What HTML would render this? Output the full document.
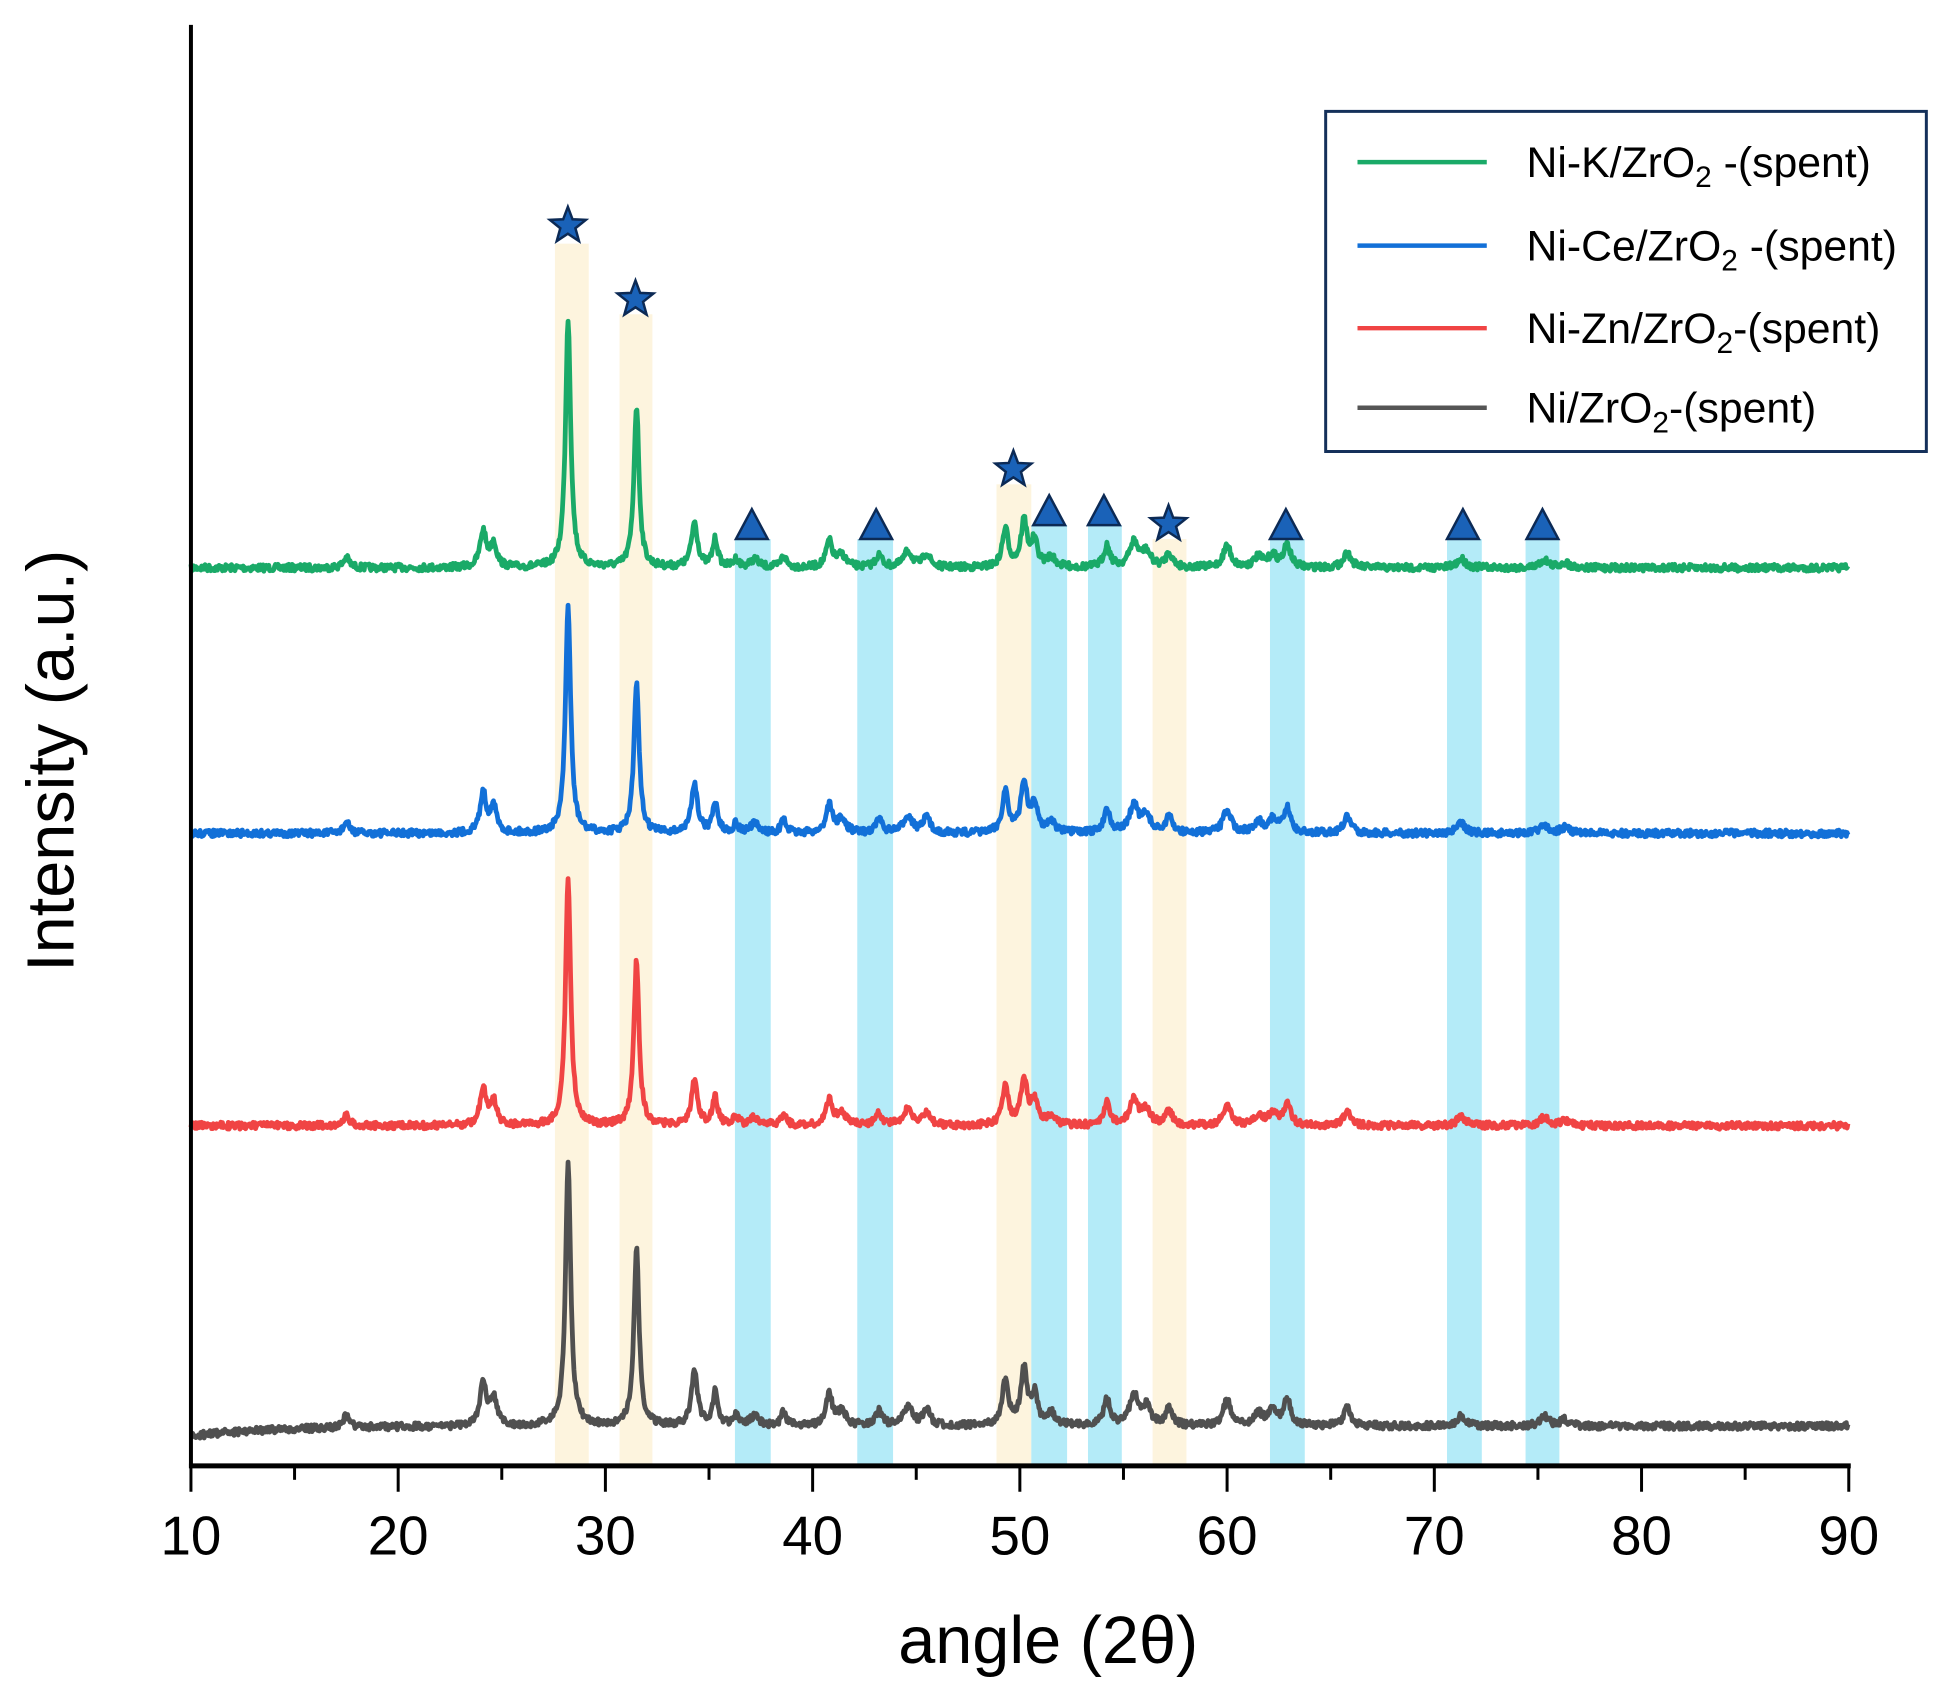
<!DOCTYPE html>
<html><head><meta charset="utf-8"><style>
html,body{margin:0;padding:0;background:#fff;}
svg{display:block;font-family:"Liberation Sans",Arial,sans-serif;}
</style></head><body>
<svg id="s" width="1957" height="1699" viewBox="0 0 1957 1699" xmlns="http://www.w3.org/2000/svg">
<g transform="scale(0.9945)">
<g id="bands"></g>
<g id="curves" fill="none" stroke-width="4.8" stroke-linejoin="round"></g>
<g id="marks"></g>
<line x1="192" y1="25" x2="192" y2="1476" stroke="#000" stroke-width="4"/>
<line x1="190" y1="1474" x2="1861" y2="1474" stroke="#000" stroke-width="5"/>
<g id="ticks" stroke="#000" stroke-width="3"></g>
<g id="tl" font-size="55" text-anchor="middle"></g>
<text x="1054" y="1672" font-size="67" text-anchor="middle">angle (2θ)</text>
<text transform="translate(74,765) rotate(-90)" font-size="67" text-anchor="middle">Intensity (a.u.)</text>
<rect x="1333" y="112" width="604" height="342" fill="#fff" stroke="#14305a" stroke-width="3"/>
<g stroke-width="4.5">
<line x1="1365" y1="163" x2="1495" y2="163" stroke="#1aaa68"/>
<line x1="1365" y1="247" x2="1495" y2="247" stroke="#1270d8"/>
<line x1="1365" y1="330" x2="1495" y2="330" stroke="#f04444"/>
<line x1="1365" y1="410" x2="1495" y2="410" stroke="#555"/>
</g>
<g font-size="43">
<text x="1535" y="178">Ni-K/ZrO<tspan font-size="30" dy="10">2</tspan><tspan dy="-10"> -(spent)</tspan></text>
<text x="1535" y="262">Ni-Ce/ZrO<tspan font-size="30" dy="10">2</tspan><tspan dy="-10"> -(spent)</tspan></text>
<text x="1535" y="345">Ni-Zn/ZrO<tspan font-size="30" dy="10">2</tspan><tspan dy="-10">-(spent)</tspan></text>
<text x="1535" y="425">Ni/ZrO<tspan font-size="30" dy="10">2</tspan><tspan dy="-10">-(spent)</tspan></text>
</g>
</g>
</svg>
<script>
var NS="http://www.w3.org/2000/svg";
function X(t){return 192+(t-10)*1667/80;}
function el(p,tag,a){var e=document.createElementNS(NS,tag);for(var k in a)e.setAttribute(k,a[k]);document.getElementById(p).appendChild(e);return e;}
var yb=[[558,592,245],[623,656,316],[1002,1037,487],[1159,1193,542]];
yb.forEach(function(b){el("bands","rect",{x:b[0],y:b[2],width:b[1]-b[0],height:1474-b[2],fill:"#fdf4de"});});
var bb=[[739,775,542],[862,898,542],[1037,1073,528],[1094,1128,528],[1277,1312,542],[1455,1490,542],[1534,1568,542]];
bb.forEach(function(b){el("bands","rect",{x:b[0],y:b[2],width:b[1]-b[0],height:1474-b[2],fill:"#b4ebf8"});});
for(var t=10;t<=90;t+=5){var maj=t%10==0;el("ticks","line",{x1:X(t),y1:1474,x2:X(t),y2:1474+(maj?26:14)});
 if(maj){var tx=el("tl","text",{x:X(t),y:1563});tx.textContent=t;}}
var seed=7;function rnd(){seed=(seed*16807)%2147483647;return seed/2147483647-0.5;}
var minor=[[17.5,10,.18],[24.1,36,.18],[24.6,24,.18],[34.3,45,.18],[35.3,28,.15],[36.3,8,.15],[37.2,8,.25],[38.6,12,.15],[40.8,26,.18],[41.4,12,.25],[43.2,12,.2],[44.6,16,.25],[45.5,14,.2],[49.3,38,.18],[50.2,46,.18],[50.7,25,.18],[51.5,10,.25],[54.2,22,.18],[55.5,25,.25],[56.1,15,.25],[57.2,14,.2],[60,22,.22],[61.5,10,.25],[62.2,12,.25],[62.9,22,.2],[65.8,15,.22],[71.3,9,.25],[75.3,8,.25],[76.3,5,.25]];
var series=[
 {c:"#1aaa68",b:571,p1:250,p2:162,ms:1.0,slope:0},
 {c:"#1270d8",b:838,p1:228,p2:150,ms:1.1,slope:0},
 {c:"#f04444",b:1132,p1:246,p2:166,ms:1.0,slope:0},
 {c:"#505050",b:1434,p1:266,p2:179,ms:1.2,slope:10}];
series.forEach(function(s){
 var d="";
 for(var t=10;t<=90;t+=0.04){
  var pk=0;
  pk+=s.p1/(1+Math.pow((t-28.2)/0.15,2));
  pk+=s.p2/(1+Math.pow((t-31.5)/0.15,2));
  minor.forEach(function(m){pk+=m[1]*s.ms/(1+Math.pow((t-m[0])/m[2],2));});
  var ramp=s.slope*Math.exp(-(t-10)/4);
  var y=s.b-pk+ramp+rnd()*7;
  d+=(d?"L":"M")+X(t).toFixed(1)+","+y.toFixed(1);
 }
 el("curves","path",{d:d,stroke:s.c});
});
function star(cx,cy,r){var p=[];for(var i=0;i<10;i++){var a=-Math.PI/2+i*Math.PI/5,rr=i%2?r*0.42:r;p.push((cx+rr*Math.cos(a)).toFixed(1)+","+(cy+rr*Math.sin(a)).toFixed(1));}
 el("marks","polygon",{points:p.join(" "),fill:"#1a62b8",stroke:"#0c2a55","stroke-width":2.5});}
[[571,227],[639,301],[1019,472],[1175,527]].forEach(function(s){star(s[0],s[1],19);});
function tri(cx,by){el("marks","polygon",{points:(cx-16)+","+by+" "+(cx+16)+","+by+" "+cx+","+(by-30),fill:"#1a62b8",stroke:"#0c2a55","stroke-width":2.5});}
[[756,542],[881,542],[1055,528],[1110,528],[1293,542],[1471,542],[1551,542]].forEach(function(t){tri(t[0],t[1]);});
</script>
</body></html>
